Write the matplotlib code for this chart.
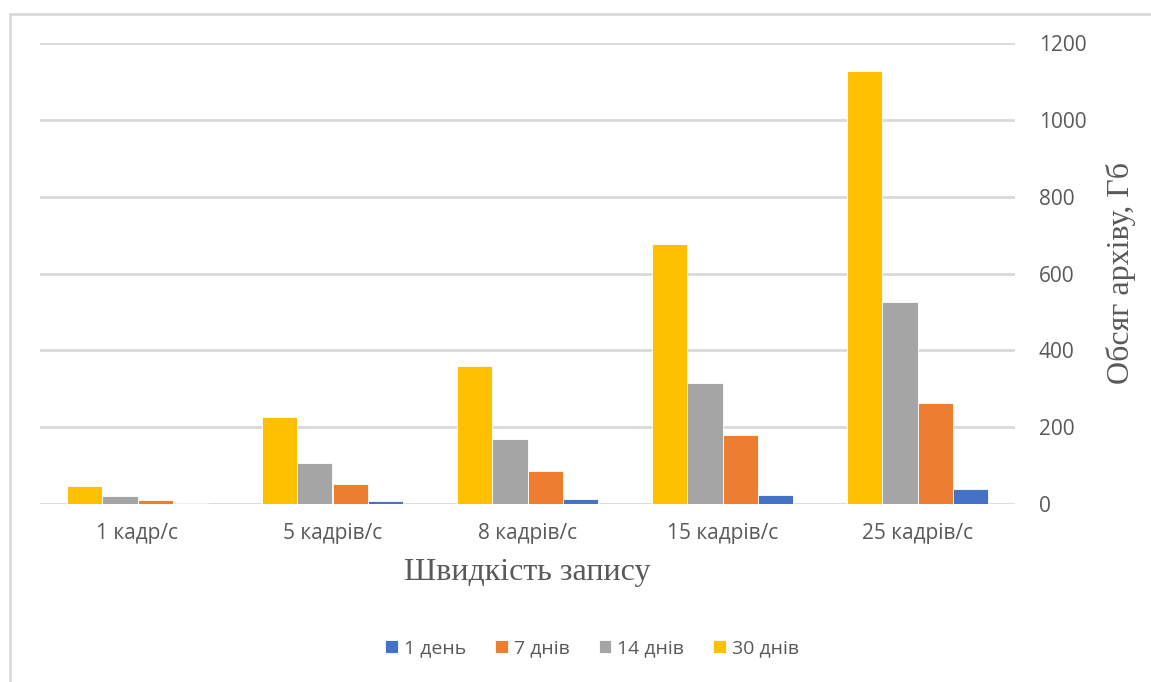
import numpy as np
import matplotlib.pyplot as plt
from matplotlib.patches import Rectangle

# archive size (GB) by recording rate and storage period
categories = ["1 кадр/с", "5 кадрів/с", "8 кадрів/с", "15 кадрів/с", "25 кадрів/с"]
day_1 = [1.5, 7.5, 12, 22.5, 38]
days_7 = [11, 53, 86, 180, 264]
days_14 = [21, 106, 170, 316, 527]
days_30 = [46, 226, 360, 677, 1128]
yticks = [0, 200, 400, 600, 800, 1000, 1200]

W, H = 1151, 682
fig = plt.figure(figsize=(W / 100, H / 100), dpi=100)
fig.patch.set_facecolor("white")

# light frame around the chart area
fig.patches.append(Rectangle((10 / W, -0.05), 1.2, 1 - 14 / H + 0.05,
                             transform=fig.transFigure, fill=False,
                             edgecolor="#d9d9d9", linewidth=2))

ax = fig.add_axes([40 / W, 1 - 504 / H, (1015 - 40) / W, (504 - 43) / H])

x = np.arange(len(categories))
w = 0.18
series = [
    (days_30, "#ffc000", "30 днів"),
    (days_14, "#a5a5a5", "14 днів"),
    (days_7, "#ed7d31", "7 днів"),
    (day_1, "#4472c4", "1 день"),
]
handles = {}
for i, (vals, col, lab) in enumerate(series):
    b = ax.bar(x + (i - 1.5) * w, vals, width=w, color=col, label=lab,
               edgecolor="white", linewidth=0.6, zorder=3)
    handles[lab] = b

ax.set_xlim(-0.5, len(categories) - 0.5)
ax.set_ylim(0, 1200)
ax.set_yticks(yticks)
ax.yaxis.tick_right()
ax.yaxis.set_label_position("right")
ax.grid(axis="y", color="#d9d9d9", linewidth=2, zorder=0)
for s in ax.spines.values():
    s.set_visible(False)
ax.tick_params(length=0, colors="#595959", labelsize=15)
ax.tick_params(axis="y", pad=17)
ax.tick_params(axis="x", pad=14)
ax.set_xticks(x)
ax.set_xticklabels(categories, family="Open Sans")
for t in ax.get_yticklabels():
    t.set_family("Open Sans")

ax.set_ylabel("Обсяг архіву, Гб", family="Liberation Serif", fontsize=23,
              color="#595959", labelpad=14)
ax.set_xlabel("Швидкість запису", family="Liberation Serif", fontsize=23,
              color="#595959", labelpad=10)

order = ["1 день", "7 днів", "14 днів", "30 днів"]
leg = fig.legend([handles[k] for k in order], order, loc="center",
                 bbox_to_anchor=(592 / W, 1 - 648 / H), ncol=4, frameon=False,
                 prop={"family": "Open Sans", "size": 14}, handlelength=0.65,
                 handleheight=0.65, handletextpad=0.3, columnspacing=1.5)
for t in leg.get_texts():
    t.set_color("#595959")

fig.savefig("out.png", dpi=100, facecolor="white")
